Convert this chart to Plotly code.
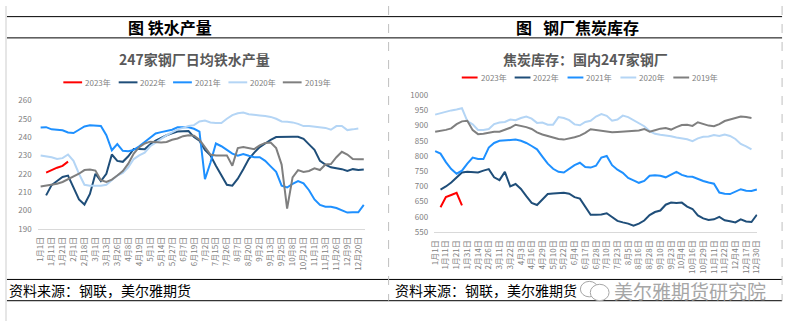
import plotly.graph_objects as go

W, H = 794, 326
def px(x): return x / W
def py(y): return 1 - y / H

# ---------------- data ----------------
series_names = ["2023年", "2022年", "2021年", "2020年", "2019年"]
series_colors = ["#FF0000", "#1F4E79", "#1E90FF", "#B4D5F5", "#7F7F7F"]

left_ticks = ["1月1日","1月11日","1月21日","2月1日","2月18日","3月1日","3月13日","3月26日","4月8日","4月19日",
              "5月1日","5月14日","5月27日","6月7日","6月19日","7月2日","7月15日","7月26日","8月7日","8月20日",
              "9月2日","9月13日","9月25日","10月8日","10月21日","11月1日","11月13日","11月26日","12月9日","12月20日"]
right_ticks = ["1月1日","1月11日","1月21日","1月31日","2月14日","2月26日","3月11日","3月22日","4月3日","4月16日",
               "4月29日","5月10日","5月22日","6月4日","6月17日","6月28日","7月10日","7月23日","8月5日","8月16日",
               "8月28日","9月10日","9月23日","10月4日","10月16日","10月29日","11月11日","11月22日","12月4日","12月17日","12月30日"]

# 247家钢厂日均铁水产量 (60 points)
iron_2023 = [None, 220.6, 222.0, 223.3, 224.3, 226.6] + [None] * 54
iron_2022 = [None, 208.2, 213.8, 216.0, 218.2, 219.0, 212.0, 206.0, 203.2, 209.0,
             220.0, 216.0, 220.0, 230.5, 227.0, 226.5, 229.5, 233.5, 233.5, 233.3,
             236.0, 238.0, 239.5, 241.0, 242.0, 243.0, 243.2, 243.3, 240.0, 238.0,
             233.0, 230.0, 224.4, 219.0, 214.0, 213.5, 217.3, 222.5, 228.0, 231.5,
             234.5, 236.5, 238.5, 240.0, 240.2, 240.2, 240.2, 240.2, 239.0, 236.0,
             233.0, 227.0, 225.0, 223.5, 223.0, 222.5, 221.5, 222.5, 222.0, 222.3]
iron_2021 = [245.2, 245.4, 244.2, 243.8, 243.7, 242.5, 242.2, 244.0, 245.8, 246.5,
             246.3, 246.0, 241.0, 232.8, 236.2, 232.5, 232.3, 233.0, 235.0, 237.5,
             240.0, 242.0, 242.7, 243.3, 244.0, 245.3, 245.3, 245.3, 244.5, 243.0,
             217.0, 226.0, 236.5, 235.0, 233.0, 231.0, 229.8, 230.8, 229.8, 229.0,
             229.0, 227.0, 224.0, 221.0, 213.5, 212.5, 214.5, 216.0, 214.7, 211.0,
             206.0, 203.0, 202.0, 202.0, 201.3, 200.0, 198.8, 199.0, 199.0, 203.0]
iron_2020 = [230.0, 229.5, 229.0, 228.0, 228.5, 230.5, 227.0, 220.0, 214.0, 213.5,
             213.3, 213.5, 214.0, 216.5, 219.0, 220.5, 223.5, 228.0, 230.0, 231.5,
             235.0, 237.0, 239.0, 241.0, 242.5, 244.2, 245.0, 246.0, 246.5, 248.5,
             249.0, 248.0, 247.7, 247.7, 250.0, 252.0, 253.0, 253.4, 252.5, 252.0,
             251.8, 251.5, 251.0, 250.0, 248.5, 248.3, 248.0, 247.2, 246.0, 246.0,
             245.8, 245.5, 245.0, 244.0, 246.0, 246.0, 243.8, 244.2, 244.7, None]
iron_2019 = [213.0, 213.5, 214.2, 214.5, 215.5, 217.0, 218.5, 220.0, 222.0, 222.3,
             221.7, 216.5, 215.5, 216.8, 219.0, 221.5, 225.5, 231.0, 234.5, 236.5,
             237.5, 237.2, 237.0, 237.3, 238.5, 239.2, 240.5, 241.0, 240.8, 238.5,
             234.5, 230.5, 230.0, 229.8, 230.0, 224.4, 234.0, 234.6, 234.2, 233.4,
             235.5, 236.8, 237.0, 234.0, 225.0, 201.0, 218.0, 222.0, 221.0, 221.5,
             223.0, 222.0, 225.0, 225.3, 229.0, 232.0, 230.5, 228.0, 227.9, 227.9]

# 焦炭库存：国内247家钢厂 (61 points)
coke_2023 = [None, 632, 665, 672, 679, 638] + [None] * 55
coke_2022 = [None, 690, 700, 713, 730, 746, 748, 748, 746, 752,
             757, 730, 721, 748, 700, 708, 692, 668, 646, 639,
             657, 675, 677, 678, 679, 676, 665, 660, 635, 607,
             607, 608, 612, 600, 587, 582, 578, 571, 578, 588,
             606, 616, 621, 640, 647, 646, 647, 634, 626, 605,
             595, 590, 592, 600, 589, 586, 582, 592, 585, 583, 607]
coke_2021 = [816, 808, 780, 757, 742, 752, 775, 795, 790, 790,
             828, 843, 850, 852, 853, 854, 850, 843, 833, 822,
             798, 775, 758, 748, 746, 759, 770, 778, 764, 762,
             768, 795, 800, 770, 755, 745, 728, 720, 712, 718,
             735, 737, 735, 730, 739, 748, 738, 733, 732, 724,
             718, 713, 709, 680, 676, 675, 683, 691, 686, 685, 690]
coke_2020 = [936, 941, 946, 950, 953, 957, 915, 904, 886, 886,
             889, 905, 910, 912, 920, 918, 925, 930, 923, 909,
             910, 903, 903, 928, 925, 918, 904, 901, 912, 916,
             930, 938, 932, 916, 920, 933, 928, 918, 908, 898,
             882, 873, 870, 868, 865, 861, 858, 855, 849, 858,
             863, 864, 869, 866, 871, 866, 856, 840, 832, 822, None]
coke_2019 = [880, 882, 886, 891, 905, 914, 916, 885, 872, 873,
             876, 880, 880, 886, 893, 903, 900, 895, 889, 878,
             871, 866, 860, 856, 854, 857, 862, 867, 876, 888,
             885, 882, 880, 878, 879, 880, 881, 882, 884, 889,
             880, 885, 890, 892, 887, 895, 902, 903, 899, 911,
             906, 900, 898, 905, 915, 920, 927, 930, 928, 925, None]

left_series = [iron_2023, iron_2022, iron_2021, iron_2020, iron_2019]
right_series = [coke_2023, coke_2022, coke_2021, coke_2020, coke_2019]

FONT = "Noto Sans CJK SC"
fig = go.Figure()

for name, col, ys in zip(series_names, series_colors, left_series):
    fig.add_trace(go.Scatter(x=list(range(len(ys))), y=ys, mode="lines", name=name,
                             line=dict(color=col, width=2), xaxis="x", yaxis="y",
                             showlegend=False, connectgaps=False))
for name, col, ys in zip(series_names, series_colors, right_series):
    fig.add_trace(go.Scatter(x=list(range(len(ys))), y=ys, mode="lines", name=name,
                             line=dict(color=col, width=2), xaxis="x2", yaxis="y2",
                             showlegend=False, connectgaps=False))

axis_font = dict(family=FONT, size=8, color="#808080")
xcommon = dict(showgrid=False, zeroline=False, showline=True, linecolor="#D9D9D9", linewidth=1,
               ticks="", tickangle=-90, tickfont=axis_font, ticklabelstandoff=4)
ycommon = dict(showgrid=False, zeroline=False, showline=False, ticks="",
               tickfont=axis_font, ticklabelstandoff=5)

fig.update_layout(
    width=W, height=H, margin=dict(l=0, r=0, t=0, b=0),
    paper_bgcolor="white", plot_bgcolor="white", showlegend=False,
    xaxis=dict(domain=[px(33), px(364)], range=[-0.55, 59.2], anchor="y",
               tickmode="array", tickvals=[2 * k for k in range(len(left_ticks))],
               ticktext=left_ticks, **xcommon),
    yaxis=dict(domain=[py(230.5), py(97.7)], range=[190, 260], dtick=10, anchor="x", **ycommon),
    xaxis2=dict(domain=[px(434), px(761)], range=[-0.2, 60.1], anchor="y2",
                tickmode="array", tickvals=[2 * k for k in range(len(right_ticks))],
                ticktext=right_ticks, **xcommon),
    yaxis2=dict(domain=[py(234), py(92.3)], range=[550, 1000], dtick=50, anchor="x2", **ycommon),
)

shapes = []
# left gray strip
shapes.append(dict(type="rect", xref="paper", yref="paper", x0=0, x1=px(2), y0=0, y1=1,
                   fillcolor="#E6E6E6", line=dict(width=0), layer="below"))
# horizontal rules
for yy in [11, 33, 283, 305]:
    shapes.append(dict(type="line", xref="paper", yref="paper", x0=px(2), x1=px(786),
                       y0=py(yy), y1=py(yy), line=dict(color="#000000", width=1)))
# dashed verticals
for xx in [388, 786]:
    shapes.append(dict(type="line", xref="paper", yref="paper", x0=px(xx), x1=px(xx),
                       y0=py(0), y1=py(305), line=dict(color="#BFBFBF", width=1, dash="dash")))

annotations = []
# custom legends
def legend(xs, yy, seglen):
    for x0, name, col in zip(xs, series_names, series_colors):
        shapes.append(dict(type="line", xref="paper", yref="paper", x0=px(x0), x1=px(x0 + seglen),
                           y0=py(yy), y1=py(yy), line=dict(color=col, width=2)))
        annotations.append(dict(x=px(x0 + seglen + 1), y=py(yy), xref="paper", yref="paper",
                                text=name, showarrow=False, xanchor="left", yanchor="middle",
                                font=dict(family=FONT, size=8, color="#808080")))

legend([59, 115, 170, 226, 281], 79, 19)
legend([462, 515.5, 569, 622.5, 676], 74, 16)

def text(x, y, s, size, color, xanchor="center", bold=False):
    annotations.append(dict(x=px(x), y=py(y), xref="paper", yref="paper",
                            text=("<b>%s</b>" % s) if bold else s, showarrow=False,
                            xanchor=xanchor, yanchor="middle",
                            font=dict(family=FONT, size=size, color=color)))

text(167, 22, "图 铁水产量", 16, "#000000", bold=True)
text(579, 22, "图   钢厂焦炭库存", 16, "#000000", bold=True)
text(192, 55, "247家钢厂日均铁水产量", 14, "#595959", bold=True)
text(587, 55, "焦炭库存：国内247家钢厂", 14, "#595959", bold=True)
text(2, 294, "资料来源：钢联，美尔雅期货", 14, "#000000", xanchor="left")
text(392, 294, "资料来源：钢联，美尔雅期货", 14, "#000000", xanchor="left")
text(614, 294, "美尔雅期货研究院", 19, "#A6A6A6", xanchor="left")

# wechat-like icon
shapes.append(dict(type="circle", xref="paper", yref="paper", x0=px(582), x1=px(600),
                   y0=py(301), y1=py(285), line=dict(color="#A6A6A6", width=1), fillcolor="white"))
shapes.append(dict(type="circle", xref="paper", yref="paper", x0=px(592), x1=px(611),
                   y0=py(305), y1=py(288), line=dict(color="#A6A6A6", width=1), fillcolor="white"))

fig.update_layout(shapes=shapes, annotations=annotations)
fig.write_html("out.html")
